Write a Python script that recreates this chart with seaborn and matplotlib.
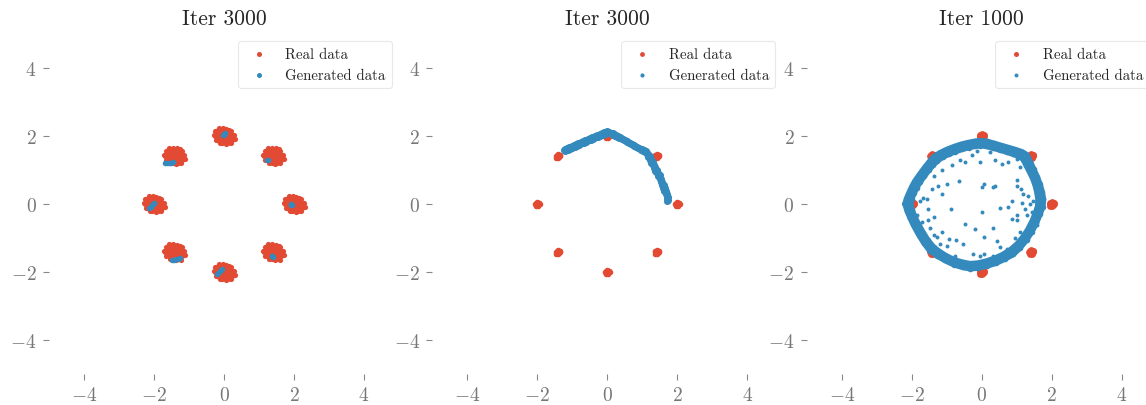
import matplotlib
matplotlib.use("Agg")
import matplotlib.pyplot as plt
import seaborn as sns

# mixture centres (8 gaussians on a circle of radius 2)
centers_x = [2.0, 1.414, 0.0, -1.414, -2.0, -1.414, 0.0, 1.414]
centers_y = [0.0, 1.414, 2.0, 1.414, 0.0, -1.414, -2.0, -1.414]

# spread of real samples around each centre
wide_offsets = [(0.00, 0.00), (0.07, 0.03), (-0.06, 0.05), (0.04, -0.07), (-0.05, -0.06),
                (0.13, 0.01), (-0.12, 0.02), (0.01, 0.13), (0.02, -0.12), (0.10, 0.10),
                (-0.10, 0.09), (0.09, -0.10), (-0.09, -0.11), (0.18, -0.04), (-0.17, -0.02),
                (0.03, 0.18), (-0.02, -0.18), (0.16, 0.09), (-0.15, 0.11), (0.14, -0.13),
                (-0.14, -0.14), (0.22, 0.04), (-0.22, 0.06), (0.06, 0.22), (-0.05, -0.21),
                (0.08, 0.16), (-0.08, 0.17), (0.17, -0.09), (-0.19, -0.08), (0.25, -0.07),
                (-0.26, 0.00), (0.15, 0.19), (-0.18, 0.17), (0.05, -0.23), (-0.12, -0.20),
                (0.22, -0.13), (0.20, 0.15), (-0.23, -0.13), (0.11, -0.20), (-0.03, 0.24),
                (0.28, 0.02), (-0.30, 0.04), (0.12, 0.04), (-0.04, 0.09), (0.06, -0.02),
                (-0.10, -0.02), (0.00, -0.10), (0.05, 0.09), (-0.15, 0.24), (0.19, -0.22),
                (0.30, -0.10), (-0.25, 0.14)]

# tighter spread used in the second and third panel
tight_offsets = [(0.00, 0.00), (0.04, 0.02), (-0.04, 0.03), (0.03, -0.04), (-0.03, -0.04),
                 (0.06, -0.01), (-0.06, 0.00), (0.00, 0.06), (0.01, -0.06), (0.05, 0.04),
                 (-0.05, -0.05), (0.02, 0.03)]

# panel 1 generated samples (small blobs inside each mode)
gen1 = [(0.00, 2.05), (0.02, 2.08), (-0.02, 2.02), (0.01, 2.03),
        (1.23, 1.30), (1.25, 1.28),
        (1.92, -0.02), (1.90, 0.00), (1.94, -0.03),
        (1.38, -1.53), (1.36, -1.52), (1.40, -1.55),
        (-0.20, -2.05), (-0.16, -2.02), (-0.12, -1.98), (-0.08, -1.94), (-0.05, -1.91),
        (-1.50, -1.65), (-1.44, -1.64), (-1.38, -1.63), (-1.32, -1.62), (-1.26, -1.60),
        (-2.14, -0.12), (-2.10, -0.08), (-2.06, -0.04), (-2.02, 0.00), (-1.99, 0.04),
        (-1.70, 1.20), (-1.64, 1.21), (-1.58, 1.21), (-1.52, 1.22), (-1.46, 1.23)]

# panel 2 generated samples: a collapsed arc over the upper modes
arc_left = [(-1.25, 1.60), (-1.20, 1.62), (-1.15, 1.65), (-1.10, 1.67), (-1.05, 1.69),
            (-1.00, 1.72), (-0.95, 1.74), (-0.90, 1.76), (-0.85, 1.78), (-0.80, 1.80),
            (-0.75, 1.83), (-0.70, 1.85), (-0.65, 1.87), (-0.60, 1.89), (-0.55, 1.91),
            (-0.50, 1.94), (-0.45, 1.96), (-0.40, 1.98), (-0.35, 2.00), (-0.30, 2.02),
            (-0.25, 2.04), (-0.20, 2.06), (-0.15, 2.09), (-0.10, 2.11), (-0.05, 2.13),
            (0.00, 2.15),
            (-1.22, 1.56), (-1.17, 1.58), (-1.12, 1.60), (-1.07, 1.63), (-1.02, 1.65),
            (-0.97, 1.67), (-0.92, 1.69), (-0.87, 1.71), (-0.82, 1.74), (-0.77, 1.76),
            (-0.72, 1.78), (-0.67, 1.80), (-0.62, 1.82), (-0.57, 1.85), (-0.52, 1.87),
            (-0.47, 1.89), (-0.42, 1.91), (-0.37, 1.93), (-0.32, 1.96), (-0.27, 1.98),
            (-0.22, 2.00), (-0.17, 2.02), (-0.12, 2.04), (-0.07, 2.07), (-0.02, 2.09)]
arc_top_right = [(0.05, 2.13), (0.10, 2.10), (0.15, 2.08), (0.20, 2.05), (0.25, 2.02),
                 (0.30, 1.99), (0.35, 1.96), (0.40, 1.94), (0.45, 1.91), (0.50, 1.88),
                 (0.55, 1.85), (0.60, 1.83), (0.65, 1.80), (0.70, 1.77), (0.75, 1.74),
                 (0.80, 1.72), (0.85, 1.69), (0.90, 1.66), (0.95, 1.63), (1.00, 1.61),
                 (1.05, 1.58), (1.10, 1.55),
                 (0.07, 2.09), (0.12, 2.06), (0.17, 2.04), (0.22, 2.01), (0.27, 1.98),
                 (0.32, 1.95), (0.37, 1.93), (0.42, 1.90), (0.47, 1.87), (0.52, 1.84),
                 (0.57, 1.82), (0.62, 1.79), (0.67, 1.76), (0.72, 1.73), (0.77, 1.71),
                 (0.82, 1.68), (0.87, 1.65), (0.92, 1.62), (0.97, 1.60), (1.02, 1.57),
                 (1.07, 1.54), (1.12, 1.51)]
arc_right = [(1.17, 1.48), (1.21, 1.40), (1.25, 1.32), (1.29, 1.24), (1.33, 1.16),
             (1.37, 1.08), (1.41, 1.00), (1.45, 0.92), (1.49, 0.84), (1.53, 0.75),
             (1.57, 0.66), (1.61, 0.57), (1.64, 0.48), (1.67, 0.39), (1.70, 0.30),
             (1.72, 0.21), (1.74, 0.12),
             (1.13, 1.46), (1.17, 1.38), (1.21, 1.30), (1.25, 1.22), (1.29, 1.14),
             (1.33, 1.06), (1.37, 0.98), (1.41, 0.90), (1.45, 0.82), (1.49, 0.73),
             (1.53, 0.64), (1.57, 0.55), (1.60, 0.46), (1.63, 0.37), (1.66, 0.28),
             (1.69, 0.19), (1.71, 0.08)]

# panel 3 generated samples: dense ring + scattered interior
ring_outer = [(-2.19, 0.00), (-2.15, 0.15), (-2.08, 0.32), (-2.00, 0.50), (-1.91, 0.67),
              (-1.78, 0.86), (-1.63, 1.07), (-1.50, 1.24), (-1.38, 1.38), (-1.20, 1.50),
              (-1.00, 1.60), (-0.80, 1.68), (-0.60, 1.75), (-0.40, 1.80), (-0.20, 1.84),
              (-0.05, 1.86), (0.15, 1.84), (0.35, 1.78), (0.55, 1.72), (0.75, 1.66),
              (0.95, 1.60), (1.15, 1.53), (1.28, 1.45), (1.38, 1.25), (1.48, 1.02),
              (1.58, 0.80), (1.66, 0.58), (1.72, 0.36), (1.76, 0.14), (1.74, -0.08),
              (1.66, -0.30), (1.56, -0.55), (1.43, -0.81), (1.28, -1.05), (1.10, -1.28),
              (0.90, -1.48), (0.65, -1.62), (0.40, -1.74), (0.15, -1.82), (-0.10, -1.88),
              (-0.33, -1.90), (-0.55, -1.86), (-0.80, -1.78), (-1.05, -1.66), (-1.28, -1.52),
              (-1.48, -1.38), (-1.65, -1.15), (-1.80, -0.90), (-1.95, -0.62), (-2.05, -0.40),
              (-2.13, -0.20), (-2.19, 0.00)]
ring_inner = [(-2.04, 0.00), (-2.00, 0.16), (-1.94, 0.32), (-1.86, 0.48), (-1.77, 0.64),
              (-1.65, 0.81), (-1.52, 0.99), (-1.39, 1.15), (-1.27, 1.27), (-1.12, 1.38),
              (-0.94, 1.47), (-0.76, 1.54), (-0.57, 1.61), (-0.38, 1.66), (-0.20, 1.70),
              (-0.05, 1.72), (0.13, 1.70), (0.32, 1.65), (0.52, 1.59), (0.71, 1.53),
              (0.89, 1.47), (1.07, 1.40), (1.18, 1.32), (1.27, 1.14), (1.37, 0.94),
              (1.46, 0.75), (1.53, 0.55), (1.58, 0.34), (1.61, 0.13), (1.60, -0.07),
              (1.53, -0.28), (1.44, -0.51), (1.32, -0.75), (1.18, -0.97), (1.01, -1.18),
              (0.82, -1.35), (0.60, -1.49), (0.37, -1.60), (0.14, -1.68), (-0.10, -1.74),
              (-0.33, -1.76), (-0.54, -1.72), (-0.77, -1.65), (-1.00, -1.54), (-1.20, -1.41),
              (-1.38, -1.27), (-1.54, -1.07), (-1.68, -0.84), (-1.82, -0.58), (-1.92, -0.38),
              (-1.99, -0.18), (-2.04, 0.00)]
ring_interior = [(-1.00, 0.59), (-1.24, 0.52), (-1.43, 0.43), (-1.14, 0.29), (-0.64, 0.69),
                 (0.00, 0.51), (0.05, 0.59), (0.33, 0.50), (0.38, 0.54), (-0.88, -0.14),
                 (0.00, -0.24), (0.52, -0.11), (-0.48, -0.59), (-0.19, -0.74), (0.05, -0.98),
                 (0.33, -0.70), (0.86, -0.45), (0.76, -0.10), (0.87, 0.09), (1.00, 0.52),
                 (1.14, 0.03), (1.24, -0.14), (1.29, -0.33), (-1.57, 0.14), (-1.69, 0.18),
                 (-1.78, 0.08), (-1.86, -0.33), (-1.71, -0.52), (-1.53, -0.48), (-1.48, -0.71),
                 (-1.38, -0.38), (-1.67, -0.81), (-1.29, -0.98), (-0.95, -1.03), (-0.74, -1.05),
                 (-1.00, -1.24), (-0.76, -1.52), (-0.24, -1.46), (-0.05, -1.52), (0.43, -1.09),
                 (0.52, -1.27), (0.71, -1.33), (0.95, -1.00), (1.09, -0.81), (1.31, -0.71),
                 (1.38, -0.81), (1.00, 0.71), (1.11, 0.45), (1.19, 0.29), (1.33, 0.24),
                 (1.38, 0.00), (1.00, -0.48), (1.00, -0.33), (1.47, 0.09), (1.57, -0.10),
                 (-1.38, 0.81), (-1.14, 1.00), (-0.86, 1.14), (-0.62, 1.29), (-0.48, 1.24),
                 (-0.29, 1.43), (-0.14, 1.57), (0.38, 1.29), (0.57, 1.19), (0.76, 1.24),
                 (1.00, 1.31), (1.09, 1.09), (-1.38, -0.90), (-1.57, -1.09), (-1.19, -1.19),
                 (-0.53, -1.19), (0.05, -1.48), (0.33, -1.52), (-1.14, -0.81), (-1.53, -0.14),
                 (1.43, -0.24), (1.52, -0.43), (1.57, -0.62), (-0.05, 1.24), (0.24, 1.52)]

titles = ["Iter 3000", "Iter 3000", "Iter 1000"]

RED = "#E24A33"
BLUE = "#348ABD"


def spread(offsets):
    xs, ys = [], []
    for cx, cy in zip(centers_x, centers_y):
        for dx, dy in offsets:
            xs.append(cx + dx)
            ys.append(cy + dy)
    return xs, ys


def unzip(points):
    return [p[0] for p in points], [p[1] for p in points]


sns.set_style("white")
plt.rcParams["font.family"] = "serif"
plt.rcParams["font.serif"] = ["cmr10"]
plt.rcParams["mathtext.fontset"] = "cm"
plt.rcParams["axes.formatter.use_mathtext"] = True

W, H = 1146, 406
fig = plt.figure(figsize=(W / 100, H / 100), dpi=100)
lefts = [49, 432.4, 806.8]
axes = [fig.add_axes([l / W, 31 / H, 350 / W, 340 / H]) for l in lefts]

# panel 1
ax = axes[0]
rx, ry = spread(wide_offsets)
sns.scatterplot(x=rx, y=ry, color=RED, s=14, linewidth=0, ax=ax, label="Real data")
gx, gy = unzip(gen1)
sns.scatterplot(x=gx, y=gy, color=BLUE, s=16, linewidth=0, ax=ax, label="Generated data")

# panel 2
ax = axes[1]
rx, ry = spread(tight_offsets)
sns.scatterplot(x=rx, y=ry, color=RED, s=16, linewidth=0, ax=ax, label="Real data")
gx, gy = unzip(arc_left + arc_top_right + arc_right)
sns.scatterplot(x=gx, y=gy, color=BLUE, s=26, linewidth=0, ax=ax, label="Generated data")

# panel 3
ax = axes[2]
sns.scatterplot(x=rx, y=ry, color=RED, s=24, linewidth=0, ax=ax, label="Real data")
ox, oy = unzip(ring_outer)
nx, ny = unzip(ring_inner)
# the dense band of samples on the ring
ax.plot(ox, oy, color=BLUE, lw=4.2, solid_joinstyle="round")
ax.plot(nx, ny, color=BLUE, lw=4.2, solid_joinstyle="round")
ax.scatter(ox + nx, oy + ny, color=BLUE, s=16, linewidth=0)
ix, iy = unzip(ring_interior)
sns.scatterplot(x=ix, y=iy, color=BLUE, s=8, linewidth=0, ax=ax, label="Generated data")

legend_sizes = [(13, 13), (12, 9), (13, 8)]
for ax, title, sizes in zip(axes, titles, legend_sizes):
    ax.set_xlim(-5, 5)
    ax.set_ylim(-5, 5)
    ax.set_xticks([-4, -2, 0, 2, 4])
    ax.set_yticks([-4, -2, 0, 2, 4])
    sns.despine(ax=ax, left=True, bottom=True)
    ax.tick_params(bottom=True, left=True, direction="out", length=4, width=0.8,
                   color="#888888", labelcolor="#777777", labelsize=14, pad=5)
    ax.set_title(title, fontsize=15.5, pad=7)
    leg = ax.legend(loc="upper right", fontsize=10.7, frameon=True)
    leg.get_frame().set_edgecolor("#e3e3e3")
    leg.get_frame().set_linewidth(0.8)
    for h, sz in zip(leg.legend_handles, sizes):
        h.set_sizes([sz])

fig.savefig("out.png", dpi=100)
